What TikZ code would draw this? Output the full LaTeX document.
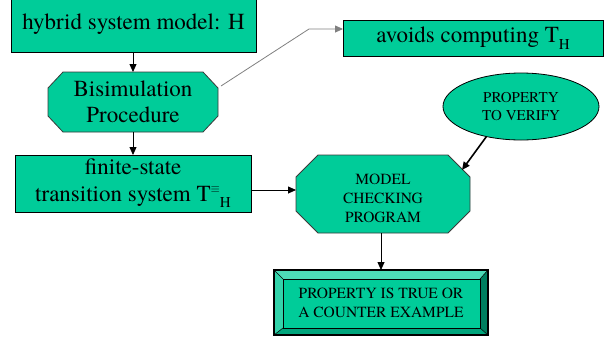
\documentclass[tikz,border=0pt]{standalone}
\usepackage{fontspec}
\setmainfont{TeX Gyre Termes}
\newfontfamily\serifx{TeX Gyre Termes}
\usetikzlibrary{shapes.geometric,arrows.meta,backgrounds}
\definecolor{fillc}{HTML}{00CC99}
\definecolor{bevtop}{HTML}{4DDBB8}
\definecolor{bevleft}{HTML}{33D3AA}
\definecolor{bevright}{HTML}{007F60}
\definecolor{bevbot}{HTML}{00A57C}
\definecolor{edgec}{HTML}{3A3A3A}
\newcommand\lowsub[1]{\raisebox{-0.28em}{\fontsize{15}{15}\selectfont #1}}
\tikzset{
  bigtext/.style={font=\serifx\fontsize{23}{26.5}\selectfont, align=center, text=black, inner sep=0pt, outer sep=0pt},
  smalltext/.style={font=\serifx\fontsize{15.5}{18.8}\selectfont, align=center, text=black, inner sep=0pt, outer sep=0pt},
  boxnode/.style={draw=black, line width=0.8pt, fill=fillc, rectangle},
  octarea/.style={rectangle, inner sep=0pt, outer sep=0pt},
  octline/.style={draw=edgec, line width=0.8pt, fill=fillc},
  ellnode/.style={draw=black, line width=0.8pt, fill=fillc, ellipse},
  conn/.style={draw=black, line width=0.8pt, -{Triangle[length=8pt,width=7pt]}},
  thickconn/.style={draw=black, line width=1.6pt, -{Triangle[length=8pt,width=7pt]}},
  grayconn/.style={draw=gray, line width=0.8pt, -{Triangle[length=8pt,width=7pt]}},
}
\newcommand\octagonfor[3]{%
  \begin{pgfonlayer}{background}
  \path[octline] ([xshift=#2]#1.north west) -- ([xshift=-#2]#1.north east)
    -- ([yshift=-#3]#1.north east) -- ([yshift=#3]#1.south east)
    -- ([xshift=-#2]#1.south east) -- ([xshift=#2]#1.south west)
    -- ([yshift=#3]#1.south west) -- ([yshift=-#3]#1.north west) -- cycle;
  \end{pgfonlayer}}
\begin{document}
\begin{tikzpicture}[x=1pt,y=-1pt]
\begin{pgfonlayer}{background}
\fill[white] (0,0) rectangle (611,341);
\end{pgfonlayer}
\useasboundingbox (0,0) rectangle (611,341);

\node[boxnode, bigtext, minimum width=245pt, minimum height=56pt] (hsm) at (133.5,24) {hybrid system model: H};
\node[octarea, bigtext, minimum width=170pt, minimum height=60pt] (bis) at (133,102) {Bisimulation\\Procedure};
\octagonfor{bis}{15pt}{16pt}
\node[boxnode, bigtext, minimum width=260pt, minimum height=36pt] (avo) at (473,38) {avoids computing T\lowsub{H}};
\node[boxnode, bigtext, minimum width=236pt, minimum height=57pt] (fin) at (133,183.5)
  {finite-state\\transition system T\raisebox{0.4em}{\fontsize{13}{13}\selectfont $\equiv$}\lowsub{H}};
\node[ellnode, smalltext, minimum width=156pt, minimum height=67pt, font=\serifx\fontsize{15}{18.5}\selectfont] (prop) at (521,106.5) {PROPERTY\\TO VERIFY};
\node[octarea, minimum width=174pt, minimum height=78pt] (mcp) at (383,194) {};
\octagonfor{mcp}{22pt}{22pt}
\node[smalltext] (mcptext) at (383,198.5) {MODEL\\CHECKING\\PROGRAM};

% bevelled result box
\node[rectangle, minimum width=214pt, minimum height=65pt, inner sep=0pt, outer sep=0pt] (res) at (381,302.5) {};
\coordinate (ro1) at (res.north west);
\coordinate (ro2) at (res.north east);
\coordinate (ro3) at (res.south east);
\coordinate (ro4) at (res.south west);
\coordinate (ri1) at ([shift={(9pt,-9pt)}]res.north west);
\coordinate (ri2) at ([shift={(-8pt,-9pt)}]res.north east);
\coordinate (ri3) at ([shift={(-8pt,7pt)}]res.south east);
\coordinate (ri4) at ([shift={(9pt,7pt)}]res.south west);
\fill[fillc] (ri1) rectangle (ri3);
\fill[bevtop] (ro1) -- (ro2) -- (ri2) -- (ri1) -- cycle;
\fill[bevleft] (ro1) -- (ri1) -- (ri4) -- (ro4) -- cycle;
\fill[bevright] (ro2) -- (ro3) -- (ri3) -- (ri2) -- cycle;
\fill[bevbot] (ro4) -- (ri4) -- (ri3) -- (ro3) -- cycle;
\draw[black, line width=0.5pt] (ri1) rectangle (ri3);
\draw[black, line width=0.5pt] (ro1) -- (ri1) (ro2) -- (ri2) (ro3) -- (ri3) (ro4) -- (ri4);
\draw[black, line width=1.4pt] (ro1) rectangle (ro3);
\node[smalltext] (restext) at (381,303) {PROPERTY IS TRUE OR\\A COUNTER EXAMPLE};

% connectors
\draw[conn] (hsm.south -| bis.north) -- (bis.north);
\draw[conn] (bis.south) -- (fin.north);
\coordinate (finout) at ([yshift=-6.5pt]fin.east);
\draw[conn] (finout) -- (finout -| mcp.west);
\coordinate (bisout) at ([shift={(3pt,16pt)}]bis.east);
\coordinate (bend) at (309,29);
\draw[grayconn] (bisout) -- (bend) -- (bend -| avo.west);
\draw[thickconn] (prop.221) -- (462,170);
\draw[conn] (mcp.south -| res.north) -- (res.north);
\end{tikzpicture}
\end{document}
